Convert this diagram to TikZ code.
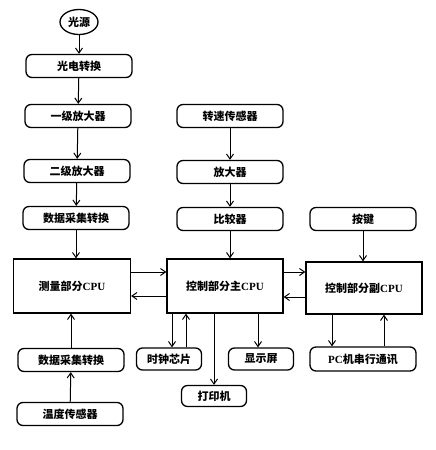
\documentclass[tikz,border=0pt]{standalone}
\usepackage{fontspec}
\newfontfamily\cjk{Noto Sans CJK SC}
\newfontfamily\lat{Liberation Serif}
\usetikzlibrary{arrows.meta,shapes.geometric}

\begin{document}
\begin{tikzpicture}[x=1pt,y=-1pt,
  >={Straight Barb[length=5pt,width=7pt]},
  every path/.style={line width=1pt},
  txt/.style={font=\cjk\bfseries\fontsize{11pt}{13pt}\selectfont},
  box/.style={txt, draw, rounded corners=6pt, line width=1.3pt, minimum width=106pt, minimum height=23pt, inner sep=0pt},
  sbox/.style={box, minimum width=65pt, minimum height=22pt},
  cpu/.style={txt, draw, line width=1.3pt, minimum width=117pt, minimum height=54pt, inner sep=0pt}]
\useasboundingbox (0,0) rectangle (436,450);

% left column
\node[txt, draw, ellipse, line width=1.3pt, minimum width=38pt, minimum height=25pt, inner sep=0pt] (src) at (79,22) {光源};
\node[box] (pe) at (79,66) {光电转换};
\node[box] (amp1) at (78,116) {一级放大器};
\node[box] (amp2) at (77,171) {二级放大器};
\node[box] (adc1) at (76,218) {数据采集转换};
\node[cpu] (meas) at (72,286) {测量部分{\lat CPU}};
\node[box] (adc2) at (71,360) {数据采集转换};
\node[box] (temp) at (70,414) {温度传感器};

% middle column
\node[box] (speed) at (230,116) {转速传感器};
\node[box] (amp3) at (230,172) {放大器};
\node[box] (cmp) at (230,219) {比较器};
\node[cpu, minimum width=116pt] (main) at (225,286) {控制部分主{\lat CPU}};

% right column
\node[box] (key) at (363,219) {按键};
\node[cpu, minimum width=116pt, minimum height=52pt] (sub) at (364,288) {控制部分副{\lat CPU}};

% bottom row
\node[sbox] (clock) at (169,359) {时钟芯片};
\node[sbox] (disp) at (261,359) {显示屏};
\node[sbox, minimum height=21pt] (prn) at (214,396) {打印机};
\node[box, minimum height=24pt] (pc) at (363,359) {{\lat PC}机串行通讯};

\draw[->] (src) -- (pe);
\draw[->] (pe) -- (amp1);
\draw[->] (amp1) -- (amp2);
\draw[->] (amp2) -- (adc1);
\draw[->] (adc1.south) -- (adc1.south |- meas.north);
\draw[->] (temp) -- (adc2);
\draw[->] (adc2.north) -- (adc2.north |- meas.south);

\draw[->] (speed) -- (amp3);
\draw[->] (amp3) -- (cmp);
\draw[->] (cmp.south) -- (cmp.south |- main.north);
\draw[->] (key.south) -- (key.south |- sub.north);

% links between the CPUs
\coordinate (mr) at ([yshift=14pt]meas.east);
\coordinate (ml) at ([yshift=-10pt]main.west);
\coordinate (sr) at ([yshift=14pt]main.east);
\coordinate (sl) at ([yshift=-9pt]sub.west);
\draw[->] (mr) -- (mr -| main.west);
\draw[->] (ml) -- (ml -| meas.east);
\draw[->] (sr) -- (sr -| sub.west);
\draw[->] (sl) -- (sl -| main.east);

% main CPU outputs
\coordinate (c1) at ([xshift=3pt]clock.north);
\coordinate (c2) at ([xshift=17pt]clock.north);
\coordinate (d1) at ([xshift=-3pt]disp.north);
\coordinate (p1) at ([xshift=2pt]pc.north);
\coordinate (p2) at ([xshift=-31pt]pc.north);
\coordinate (p3) at ([xshift=21pt]pc.north);
\draw[->] (c1 |- main.south) -- (c1);
\draw[->] (c2) -- (c2 |- main.south);
\draw[->] (d1 |- main.south) -- (d1);
\draw[->] (prn.north |- main.south) -- (prn.north);
\draw[->] (p2 |- sub.south) -- (p2);
\draw[->] (p3) -- (p3 |- sub.south);

\end{tikzpicture}
\end{document}
